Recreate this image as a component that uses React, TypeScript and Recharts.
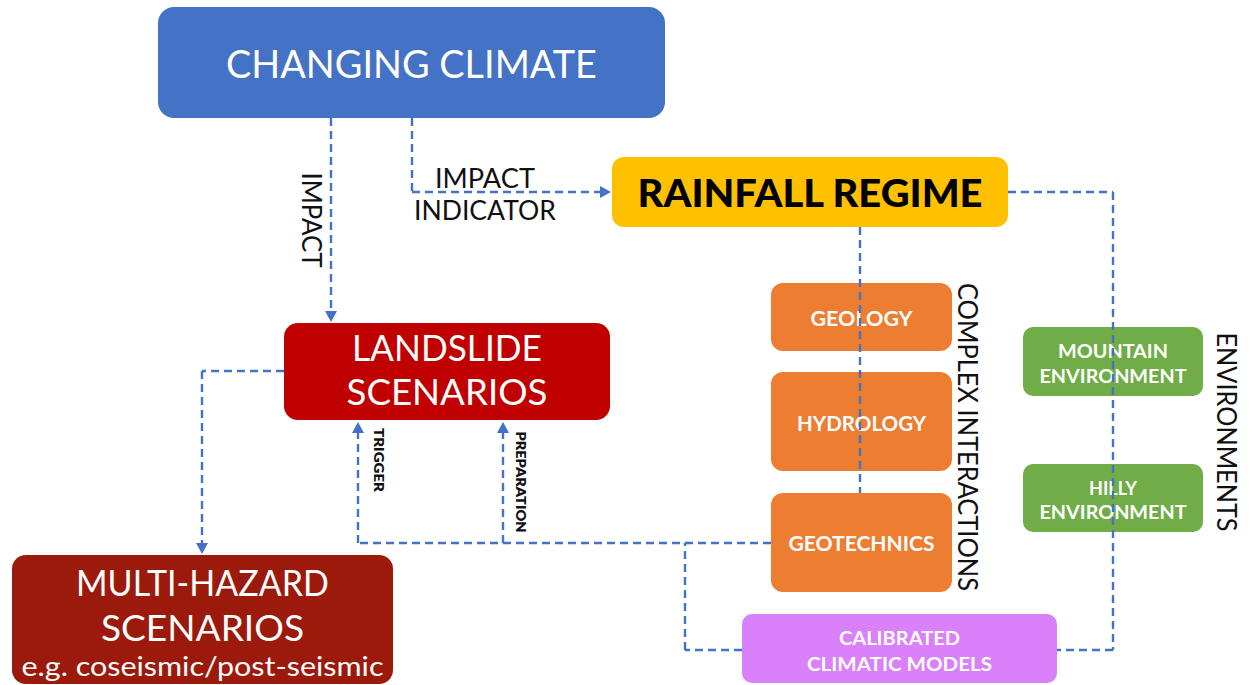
import { ComposedChart, XAxis, YAxis, ReferenceArea, ReferenceLine, ReferenceDot } from "recharts"

// diagram coordinates: x 0..1249, y 0..685 (top to bottom)
const boxes = [
  { id: "climate", lines: ["CHANGING CLIMATE"], x1: 158, x2: 665, y1: 7, y2: 118, ys: [63], widths: [371] },
  { id: "rainfall", lines: ["RAINFALL REGIME"], x1: 612, x2: 1008, y1: 157, y2: 227, ys: [192], widths: [345] },
  { id: "landslide", lines: ["LANDSLIDE", "SCENARIOS"], x1: 284, x2: 610, y1: 323, y2: 420, ys: [347, 391], widths: [190, 201] },
  {
    id: "multi",
    lines: ["MULTI-HAZARD", "SCENARIOS", "e.g. coseismic/post-seismic"],
    x1: 12, x2: 393, y1: 555, y2: 684, ys: [582, 627, 666], widths: [253, 203, 362],
  },
  { id: "geology", lines: ["GEOLOGY"], x1: 771, x2: 952, y1: 283, y2: 351, ys: [318], widths: [102] },
  { id: "hydrology", lines: ["HYDROLOGY"], x1: 771, x2: 952, y1: 372, y2: 471, ys: [423], widths: [129] },
  { id: "geotech", lines: ["GEOTECHNICS"], x1: 771, x2: 952, y1: 493, y2: 592, ys: [543], widths: [146] },
  { id: "mountain", lines: ["MOUNTAIN", "ENVIRONMENT"], x1: 1023, x2: 1203, y1: 327, y2: 396, ys: [350, 375], widths: [110, 147] },
  { id: "hilly", lines: ["HILLY", "ENVIRONMENT"], x1: 1023, x2: 1203, y1: 464, y2: 532, ys: [487, 511], widths: [48, 147] },
  { id: "calibrated", lines: ["CALIBRATED", "CLIMATIC MODELS"], x1: 742, x2: 1057, y1: 614, y2: 683, ys: [637, 663], widths: [121, 185] },
]

const links = [
  { points: [[331, 118], [331, 322]], arrow: true },
  { points: [[412, 118], [412, 192], [611, 192]], arrow: true },
  { points: [[860, 227], [860, 493]], arrow: false },
  { points: [[1008, 192], [1113, 192], [1113, 650], [1057, 650]], arrow: false },
  { points: [[771, 543], [358, 543], [358, 422]], arrow: true },
  { points: [[503, 543], [503, 422]], arrow: true },
  { points: [[742, 650], [685, 650], [685, 543]], arrow: false },
  { points: [[284, 371], [202, 371], [202, 554]], arrow: true },
]

const sideLabels = [
  { text: "IMPACT", x: 312, y: 220, len: 95, kind: "light" },
  { text: "COMPLEX INTERACTIONS", x: 968, y: 437, len: 308, kind: "light" },
  { text: "ENVIRONMENTS", x: 1227, y: 432, len: 199, kind: "light" },
  { text: "TRIGGER", x: 379, y: 460, len: 64, kind: "bold" },
  { text: "PREPARATION", x: 521, y: 482, len: 101, kind: "bold" },
]

const freeLabels = [
  { text: "IMPACT", x: 485, y: 178, len: 100 },
  { text: "INDICATOR", x: 485, y: 210, len: 142 },
]

const boxStyle: Record<string, { fill: string; color: string; size: number; weight: number; radius: number }> = {
  climate: { fill: "#4472C4", color: "#ffffff", size: 38, weight: 400, radius: 16 },
  rainfall: { fill: "#FFC000", color: "#000000", size: 38, weight: 900, radius: 12 },
  landslide: { fill: "#C00000", color: "#ffffff", size: 36, weight: 400, radius: 14 },
  multi: { fill: "#9C1A0C", color: "#ffffff", size: 36, weight: 400, radius: 14 },
  geology: { fill: "#ED7D31", color: "#ffffff", size: 20, weight: 700, radius: 12 },
  hydrology: { fill: "#ED7D31", color: "#ffffff", size: 20, weight: 700, radius: 12 },
  geotech: { fill: "#ED7D31", color: "#ffffff", size: 20, weight: 700, radius: 12 },
  mountain: { fill: "#70AD47", color: "#ffffff", size: 19, weight: 700, radius: 10 },
  hilly: { fill: "#70AD47", color: "#ffffff", size: 19, weight: 700, radius: 10 },
  calibrated: { fill: "#DA80FA", color: "#ffffff", size: 19, weight: 700, radius: 10 },
}

const LINE = "#4472C4"
const FONT = "Lato, 'Open Sans', sans-serif"

function segmentShape(arrow: boolean) {
  return (p: any) => {
    const { x1, y1, x2, y2 } = p
    if (!arrow) {
      return <line x1={x1} y1={y1} x2={x2} y2={y2} stroke={LINE} strokeWidth={2.4} strokeDasharray="8 5" />
    }
    const dx = x2 - x1
    const dy = y2 - y1
    const L = Math.sqrt(dx * dx + dy * dy) || 1
    const ux = dx / L
    const uy = dy / L
    const bx = x2 - ux * 11
    const by = y2 - uy * 11
    const pts = `${x2},${y2} ${bx - uy * 6},${by + ux * 6} ${bx + uy * 6},${by - ux * 6}`
    return (
      <g>
        <line x1={x1} y1={y1} x2={bx} y2={by} stroke={LINE} strokeWidth={2.4} strokeDasharray="8 5" />
        <polygon points={pts} fill={LINE} />
      </g>
    )
  }
}

function boxShape(b: (typeof boxes)[number]) {
  const s = boxStyle[b.id]
  return (p: any) => (
    <g>
      <rect x={p.x} y={p.y} width={p.width} height={p.height} rx={s.radius} ry={s.radius} fill={s.fill} />
      {b.lines.map((t, i) => {
        const sz = b.id === "multi" && i === 2 ? 26 : s.size
        return (
          <text
            key={i}
            x={p.x + p.width / 2}
            y={b.ys[i]}
            textAnchor="middle"
            dominantBaseline="central"
            fill={s.color}
            fontSize={sz}
            fontWeight={s.weight}
            fontFamily={FONT}
            textLength={b.widths[i]}
            lengthAdjust="spacingAndGlyphs"
          >
            {t}
          </text>
        )
      })}
    </g>
  )
}

export default function App() {
  return (
    <div style={{ position: "absolute", left: 0, top: 0, background: "#fff" }}>
      <ComposedChart width={1249} height={685} margin={{ top: 0, right: 0, bottom: 0, left: 0 }}>
        <XAxis type="number" dataKey="x" domain={[0, 1249]} allowDataOverflow hide />
        <YAxis type="number" dataKey="y" domain={[0, 685]} allowDataOverflow reversed hide />
        {links.flatMap((l, li) =>
          l.points.slice(1).map((pt, i) => {
            const prev = l.points[i]
            const last = i === l.points.length - 2
            return (
              <ReferenceLine
                key={`l${li}-${i}`}
                segment={[
                  { x: prev[0], y: prev[1] },
                  { x: pt[0], y: pt[1] },
                ]}
                ifOverflow="visible"
                shape={segmentShape(l.arrow && last)}
              />
            )
          })
        )}
        {boxes.map((b) => (
          <ReferenceArea
            key={b.id}
            x1={b.x1}
            x2={b.x2}
            y1={b.y1}
            y2={b.y2}
            ifOverflow="visible"
            shape={boxShape(b)}
          />
        ))}
        {sideLabels.map((s, i) => (
          <ReferenceDot
            key={`s${i}`}
            x={s.x}
            y={s.y}
            ifOverflow="visible"
            shape={(p: any) => (
              <text
                x={p.cx}
                y={p.cy}
                transform={`rotate(90 ${p.cx} ${p.cy})`}
                textAnchor="middle"
                dominantBaseline="central"
                fontSize={s.kind === "bold" ? 13 : 26}
                fontWeight={s.kind === "bold" ? 800 : 400}
                fontFamily={FONT}
                fill="#111"
                textLength={s.len}
                lengthAdjust="spacingAndGlyphs"
              >
                {s.text}
              </text>
            )}
          />
        ))}
        {freeLabels.map((f, i) => (
          <ReferenceDot
            key={`f${i}`}
            x={f.x}
            y={f.y}
            ifOverflow="visible"
            shape={(p: any) => (
              <text
                x={p.cx}
                y={p.cy}
                textAnchor="middle"
                dominantBaseline="central"
                fontSize={26}
                fontWeight={400}
                fontFamily={FONT}
                fill="#111"
                textLength={f.len}
                lengthAdjust="spacingAndGlyphs"
              >
                {f.text}
              </text>
            )}
          />
        ))}
      </ComposedChart>
    </div>
  )
}
